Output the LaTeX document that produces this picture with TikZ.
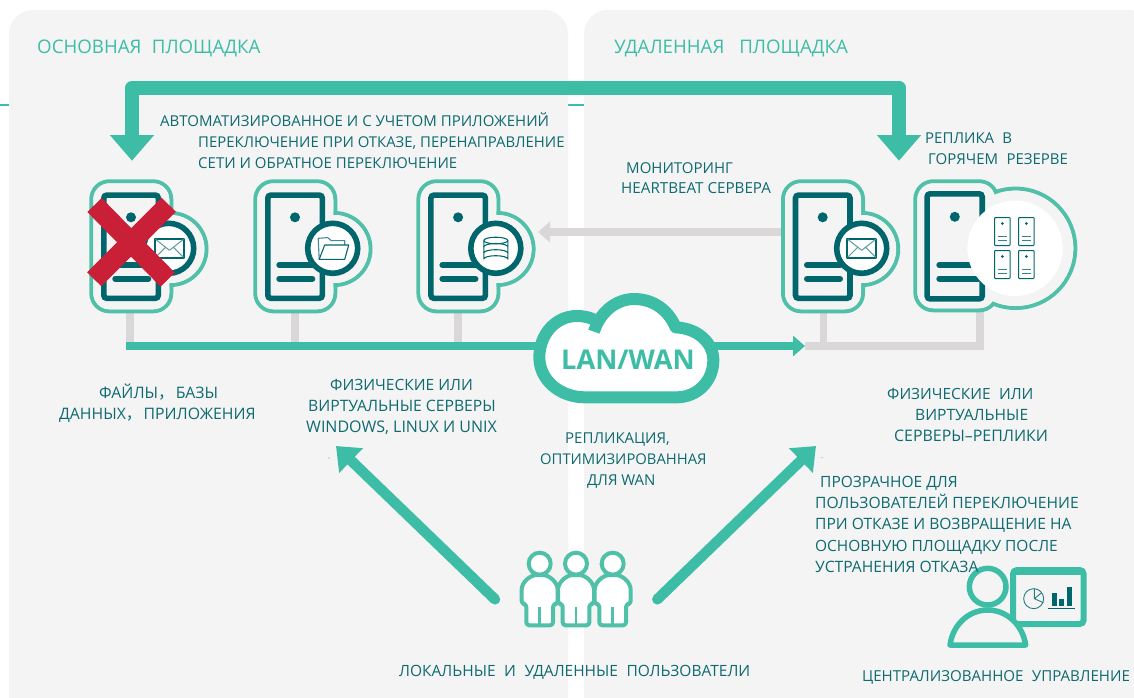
\documentclass[tikz,border=0pt]{standalone}
\usepackage{fontspec}
\setmainfont{Open Sans}
\newfontfamily\cjkc{Noto Sans CJK SC}
\usetikzlibrary{arrows.meta}
\definecolor{teal1}{HTML}{3DBDA6}
\definecolor{teal2}{HTML}{50C0A8}
\definecolor{darkt}{HTML}{00666B}
\definecolor{txt}{HTML}{0E6A70}
\definecolor{grayl}{HTML}{D9D7D7}
\definecolor{panel}{HTML}{F4F4F4}
\definecolor{redx}{HTML}{C91F37}
\tikzset{
  lbl/.style={anchor=base west,yshift=-5.4pt,inner sep=0pt,text=txt,font=\fontsize{15}{18}\selectfont},
  fsz/.style={font=\fontsize{#1}{18}\selectfont},
  ttl/.style={anchor=base west,yshift=-6.7pt,inner sep=0pt,text=teal1,font=\fontsize{18.7}{22}\selectfont},
  grayconn/.style={draw=grayl,line width=7.5pt},
  grayarrow/.style={draw=grayl,line width=8pt,-{Triangle[length=12pt,width=20pt]}},
  tealarrow/.style={draw=teal1,line width=8pt,-{Triangle[length=12pt,width=20pt]}},
  diag/.style={draw=teal1,line width=10.5pt,line cap=round,-{Triangle[length=21pt,width=33pt]}},
  bigarrow/.style={draw=teal1,line width=14.5pt,line join=round,{Triangle[length=25.7pt,width=42.7pt]}-{Triangle[length=25.7pt,width=42.7pt]}},
  outl/.style={draw=teal2,line width=4pt},
  darkline/.style={draw=darkt,line width=5.6pt},
  icon/.style={draw=darkt,line width=1.1pt,line join=round},
}
\newcommand{\srvbase}[2]{%
  \begin{scope}[shift={(#1,179.3)}]
    \draw[darkline,fill=panel,rounded corners=3pt] (14.5,15.8) rectangle (69,119);
    \fill[darkt] (41.7,38) circle[radius=5pt];
    \draw[darkline,line width=6pt,line cap=round] (26,85.7) -- (59,85.7);
    \draw[darkline,line width=6pt,line cap=round] (26,99.4) -- (59,99.4);
  \end{scope}}
\newcommand{\srvoutline}[1]{%
  \begin{scope}[shift={(#1,179.3)}]
    \draw[outl,rounded corners=18pt] (2,2) rectangle (82,132);
    \draw[outl] (81.2,69.7) circle[radius=36pt];
    \fill[panel,rounded corners=16pt] (4,4) rectangle (80,130);
    \fill[panel] (81.2,69.7) circle[radius=34pt];
  \end{scope}}
\newcommand{\srvbadge}[1]{%
  \draw[darkline,fill=white] (#1,248.3) circle[radius=25pt];}
\newcommand{\mailicon}[1]{%
  \begin{scope}[shift={(#1,248.3)}]
    \draw[icon,line width=1.6pt] (-14.5,-9.5) rectangle (14.5,9.5);
    \draw[icon,draw=darkt!65,line width=1pt] (-14,-9) -- (0,2) -- (14,-9) (-14,9) -- (-4,-1) (14,9) -- (4,-1);
  \end{scope}}
\newcommand{\miniserver}[2]{%
  \begin{scope}[shift={(#1,#2)}]
    \draw[draw=darkt,line width=1pt,fill=white,rounded corners=.8pt] (0,0) rectangle (15.5,28);
    \fill[darkt] (7.8,6) circle[radius=1.5pt];
    \draw[draw=darkt!80,line width=1pt] (3,19) -- (12.5,19) (3,22.5) -- (12.5,22.5);
  \end{scope}}
\newcommand{\tl}[5][lbl]{\node[#1] (#2) at (#3,#4) {#5};}
\newcommand{\sps}{\hspace{.55em}}
\newcommand{\fwc}{{\cjkc ，}\hspace{.12em}}
\begin{document}
\begin{tikzpicture}[x=1pt,y=-1pt]
\useasboundingbox (0,0) rectangle (1134,697);
\clip (0,0) rectangle (1134,697);
\fill[white] (0,0) rectangle (1134,697);
% stray rule behind the panels
\fill[teal1] (0,103.5) rectangle (1134,105.5);
% panels
\fill[panel,rounded corners=24pt] (9,10) rectangle (568,730);
\fill[panel,rounded corners=24pt] (584,10) rectangle (1152,730);

% named connection points
\coordinate (s1b) at (130,313);
\coordinate (s2b) at (295,313);
\coordinate (s3b) at (458,313);
\coordinate (s4b) at (823.7,311);
\coordinate (s5b) at (980,308);
\coordinate (b1) at (130,346);
\coordinate (b2) at (295,346);
\coordinate (b3) at (458,346);
\coordinate (b4) at (823.7,346);
\coordinate (b5) at (980,346);
\coordinate (busL) at (126,346);
\coordinate (busE) at (984,346);
\coordinate (busT) at (805,346);
\coordinate (cloudc) at (628,346);
\coordinate (hbS) at (785,232);
\coordinate (hbT) at (538,232);
\coordinate (topL) at (132,160.7);
\coordinate (topM) at (500,88);
\coordinate (topR) at (899,160.7);
\coordinate (uL) at (495,599.3);
\coordinate (uR) at (657.3,599.3);
\coordinate (aL) at (336,446);
\coordinate (aR) at (816,446);

% gray links
\draw[grayconn] (s1b) -- (b1);
\draw[grayconn] (s2b) -- (b2);
\draw[grayconn] (s3b) -- (b3);
\draw[grayconn] (s4b) -- (b4);
\draw[grayconn] (s5b) -- (b5);
\draw[grayconn,line width=8pt] (busT) -- (busE);
\draw[grayarrow] (hbS) -- (hbT);
% teal bus
\draw[draw=teal1,line width=8pt] (busL) -- (cloudc);
\draw[tealarrow] (cloudc) -- (busT);
% top arrow
\draw[bigarrow] (topL) |- (topM) -| (topR);

% servers
\srvoutline{89.3}\srvbase{89.3}{}\srvbadge{168.7}\mailicon{169.5}
\srvoutline{253.3}\srvbase{253.3}{}\srvbadge{332.7}
\begin{scope}[shift={(332.7,248.3)}]
  \draw[icon,draw=darkt!75] (-13.5,11) -- (-14.5,-10) -- (-5,-10.7) -- (-1.5,-7.7) -- (12,-7.7) -- (12,-3.5);
  \draw[icon,fill=white] (-13.5,11) -- (-8,-3.3) -- (16,-3.3) -- (12,11) -- cycle;
\end{scope}
\srvoutline{416.4}\srvbase{416.4}{}\srvbadge{495.8}
\begin{scope}[shift={(495.8,249.5)}]
  \draw[icon] (-12,-9) -- (-12,9.5) arc[start angle=180,end angle=360,x radius=12,y radius=3.3] -- (12,-9);
  \draw[icon] (0,-9) ellipse[x radius=12,y radius=3.3];
  \draw[icon] (-12,-2.7) arc[start angle=180,end angle=360,x radius=12,y radius=3.3];
  \draw[icon] (-12,3.5) arc[start angle=180,end angle=360,x radius=12,y radius=3.3];
\end{scope}
\srvoutline{781}\srvbase{781}{}\srvbadge{861.7}\mailicon{861.7}
% replica server
\begin{scope}[shift={(913.3,179.3)}]
  \draw[outl,rounded corners=18pt] (2,2) rectangle (84,131);
\end{scope}
\draw[outl] (1015.6,248.3) circle[radius=59.7pt];
\begin{scope}[shift={(913.3,179.3)}]
  \fill[panel,rounded corners=16pt] (4,4) rectangle (82,129);
\end{scope}
\fill[panel] (1015.6,248.3) circle[radius=57.7pt];
\begin{scope}[shift={(913.3,179.3)}]
  \draw[darkline,fill=panel,rounded corners=3pt] (13.8,14.5) rectangle (68.9,119.6);
  \fill[darkt] (41.5,37.5) circle[radius=5pt];
  \draw[darkline,line width=6pt,line cap=round] (26,85.7) -- (65,85.7);
  \draw[darkline,line width=6pt,line cap=round] (26,99.4) -- (65,99.4);
\end{scope}
\fill[white] (1015,248.3) circle[radius=47.7pt];
\miniserver{994.5}{217.5}\miniserver{1018.5}{217.5}
\miniserver{994.5}{250.5}\miniserver{1018.5}{250.5}

% red cross
\draw[draw=redx,line width=20pt] (94.5,205) -- (167.7,279.7);
\draw[draw=redx,line width=20pt] (168.7,204.7) -- (94.3,279.3);

% cloud
\begin{scope}[shift={(510,280)},x=.33333pt,y=-.33333pt]
  \fill[white] (225,352) .. controls (150,352) and (88,300) .. (88,232)
     .. controls (88,160) and (140,108) .. (200,108)
     .. controls (225,108) and (245,113) .. (262,125)
     .. controls (285,85) and (325,57) .. (372,57)
     .. controls (430,57) and (475,90) .. (497,142)
     .. controls (565,145) and (610,190) .. (610,240)
     .. controls (610,305) and (560,352) .. (500,352) -- cycle;
  \draw[draw=teal1,line width=12pt] (225,352) .. controls (150,352) and (88,300) .. (88,232)
     .. controls (88,160) and (140,108) .. (200,108)
     .. controls (225,108) and (245,113) .. (268,128);
  \draw[draw=teal1,line width=12pt,line join=round] (252,155) .. controls (270,95) and (320,57) .. (372,57)
     .. controls (430,57) and (475,90) .. (497,142)
     .. controls (565,145) and (610,190) .. (610,240)
     .. controls (610,305) and (560,352) .. (500,352) -- (225,352);
\end{scope}
\node[inner sep=0pt,text=teal1,font=\fontsize{27.2}{30}\selectfont\bfseries] (cloudlabel) at (628,360) {LAN/WAN};

% diagonal arrows
\draw[diag] (uL) -- (aL);
\draw[diag] (uR) -- (aR);
\fill[teal1] (329,458) circle[radius=.6pt];
\fill[teal1] (822,457.7) circle[radius=.6pt];

% users
\begin{scope}[shift={(480,530)},x=.33333pt,y=-.33333pt]
  \foreach \c in {179,288,398}{
    \draw[outl,fill=white,line join=round,rounded corners=3pt] (\c-54,222)
      -- (\c-54,188) .. controls (\c-54,158) and (\c-30,135) .. (\c,135)
      .. controls (\c+30,135) and (\c+54,158) .. (\c+54,188)
      -- (\c+54,222) -- (\c+40,222) -- (\c+40,286) -- (\c-40,286) -- (\c-40,222) -- cycle;
    \draw[draw=teal2,line width=2.5pt] (\c,232) -- (\c,286);
    \draw[outl,fill=white] (\c,101) circle[radius=33];
  }
\end{scope}

% admin icon
\begin{scope}[shift={(930,550)},x=.33333pt,y=-.33333pt]
  \draw[draw=teal1,line width=6pt,fill=panel,rounded corners=4pt] (249,60) rectangle (461,222);
  \fill[teal1] (246,57) rectangle (464,75);
  \draw[draw=darkt!85,line width=.9pt,fill=panel] (311,146) circle[radius=30];
  \draw[draw=darkt!85,line width=.9pt] (313,116) -- (313,146) -- (340,158) (313,146) -- (335,128);
  \fill[darkt] (365,130) rectangle (380,167);
  \fill[darkt] (387,146) rectangle (403,167);
  \fill[darkt] (410,112) rectangle (425,167);
  \draw[draw=darkt,line width=1.2pt] (355,175) -- (435,175);
  \draw[draw=teal1,line width=5.5pt,fill=panel,line join=round] (60,285)
     .. controls (68,225) and (115,180) .. (173,180)
     .. controls (231,180) and (278,225) .. (287,285) -- cycle;
  \draw[draw=teal1,line width=5.5pt,fill=panel] (173,110) circle[radius=55];
\end{scope}

% labels
\tl[ttl]{t1}{37}{47}{ОСНОВНАЯ\sps ПЛОЩАДКА}
\tl[ttl]{t2}{614}{47}{УДАЛЕННАЯ\hspace{.8em}ПЛОЩАДКА}
\tl{a1}{160}{121}{АВТОМАТИЗИРОВАННОЕ И С УЧЕТОМ ПРИЛОЖЕНИЙ}
\tl[lbl,fsz=14.9]{a2}{198}{142}{ПЕРЕКЛЮЧЕНИЕ ПРИ ОТКАЗЕ, ПЕРЕНАПРАВЛЕНИЕ}
\tl{a3}{198}{163}{СЕТИ И ОБРАТНОЕ ПЕРЕКЛЮЧЕНИЕ}
\tl{m1}{626}{168}{МОНИТОРИНГ}
\tl[lbl,fsz=15.2]{m2}{621}{188}{HEARTBEAT СЕРВЕРА}
\tl{r1}{925}{138}{РЕПЛИКА\sps В}
\tl{r2}{928}{159}{ГОРЯЧЕМ\sps РЕЗЕРВЕ}
\tl[lbl,fsz=15.8]{f1}{99}{393}{ФАЙЛЫ\fwc БАЗЫ}
\tl[lbl,fsz=15.8]{f2}{59}{414}{ДАННЫХ\fwc ПРИЛОЖЕНИЯ}
\tl[lbl,fsz=15.5]{p1}{330}{385}{ФИЗИЧЕСКИЕ ИЛИ}
\tl[lbl,fsz=15.7]{p2}{308}{406}{ВИРТУАЛЬНЫЕ СЕРВЕРЫ}
\tl[lbl,fsz=16]{p3}{306}{427}{WINDOWS, LINUX И UNIX}
\tl{w1}{565}{438}{РЕПЛИКАЦИЯ,}
\tl[lbl,fsz=14.8]{w2}{540}{459}{ОПТИМИЗИРОВАННАЯ}
\tl{w3}{587}{480}{ДЛЯ WAN}
\tl[lbl,fsz=15.4]{v1}{887}{394}{ФИЗИЧЕСКИЕ\sps ИЛИ}
\tl[lbl,fsz=15.6]{v2}{915}{415}{ВИРТУАЛЬНЫЕ}
\tl[lbl,fsz=15.9]{v3}{894}{436}{СЕРВЕРЫ–РЕПЛИКИ}
\tl[lbl,fsz=15.5]{o1}{820}{482}{ПРОЗРАЧНОЕ ДЛЯ}
\tl[lbl,fsz=15.6]{o2}{815}{503}{ПОЛЬЗОВАТЕЛЕЙ ПЕРЕКЛЮЧЕНИЕ}
\tl[lbl,fsz=15.6]{o3}{815}{524}{ПРИ ОТКАЗЕ И ВОЗВРАЩЕНИЕ НА}
\tl[lbl,fsz=15.45]{o4}{815}{546}{ОСНОВНУЮ ПЛОЩАДКУ ПОСЛЕ}
\tl[lbl,fsz=15.65]{o5}{815}{567}{УСТРАНЕНИЯ ОТКАЗА}
\tl[lbl,fsz=15.5]{u1}{399}{671}{ЛОКАЛЬНЫЕ\sps И\sps УДАЛЕННЫЕ\sps ПОЛЬЗОВАТЕЛИ}
\tl[lbl,fsz=15.1]{c1}{862}{676}{ЦЕНТРАЛИЗОВАННОЕ\sps УПРАВЛЕНИЕ}
\end{tikzpicture}
\end{document}
